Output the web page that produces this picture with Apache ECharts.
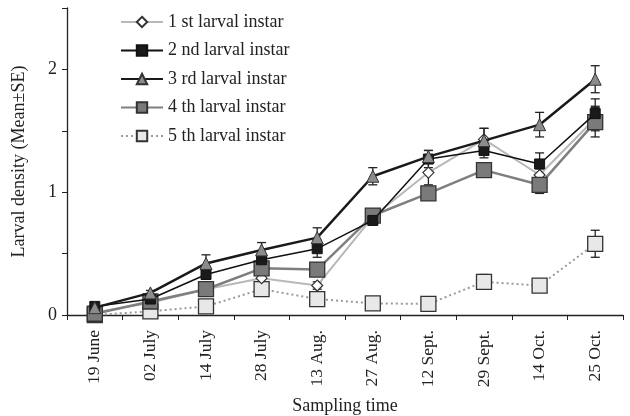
<!DOCTYPE html>
<html>
<head>
<meta charset="utf-8">
<script src="https://cdn.jsdelivr.net/npm/echarts@6/dist/echarts.min.js"></script>
<style>html,body{margin:0;padding:0;background:#fff}#c{width:630px;height:416px}</style>
</head>
<body>
<div id="c"></div>
<script>
var categories = ['19 June','02 July','14 July','28 July','13 Aug.','27 Aug.','12 Sept.','29 Sept.','14 Oct.','25 Oct.'];
var seriesNames = ['1 st larval instar','2 nd larval instar','3 rd larval instar','4 th larval instar','5 th larval instar'];
var instar1 = [0.02,0.10,0.21,0.30,0.24,0.80,1.16,1.43,1.14,1.60];
var instar2 = [0.07,0.13,0.33,0.45,0.54,0.77,1.27,1.34,1.23,1.64];
var instar3 = [0.06,0.18,0.42,0.53,0.63,1.13,1.29,1.42,1.55,1.92];
var instar4 = [0.01,0.11,0.21,0.38,0.37,0.81,0.99,1.18,1.06,1.57];
var instar5 = [0.00,0.03,0.07,0.21,0.13,0.095,0.09,0.27,0.24,0.58];
var se1 = [0.01,0.01,0.03,0.03,0.03,0.03,0.10,0.09,0.05,0.10];
var se2 = [0.01,0.02,0.04,0.05,0.07,0.03,0.07,0.06,0.09,0.12];
var se3 = [0.01,0.02,0.07,0.06,0.08,0.07,0.05,0.10,0.10,0.11];
var se4 = [0.01,0.02,0.03,0.04,0.04,0.04,0.05,0.04,0.07,0.12];
var se5 = [0.01,0.01,0.02,0.03,0.02,0.02,0.02,0.06,0.03,0.11];
var yTicks = ['0','1','2'];

var font = 'Liberation Serif';
function errSeries(vals, ses) {
  var d = vals.map(function (v, i) { return [i, v, ses[i]]; });
  return {
    type: 'custom', silent: true, z: 1,
    renderItem: function (params, api) {
      var x = api.value(0), v = api.value(1), s = api.value(2);
      var hi = api.coord([x, v + s]), lo = api.coord([x, v - s]);
      var w = 4.5;
      var st = { stroke: '#222', lineWidth: 1.3 };
      return { type: 'group', children: [
        { type: 'line', shape: { x1: hi[0], y1: hi[1], x2: lo[0], y2: lo[1] }, style: st },
        { type: 'line', shape: { x1: hi[0] - w, y1: hi[1], x2: hi[0] + w, y2: hi[1] }, style: st },
        { type: 'line', shape: { x1: lo[0] - w, y1: lo[1], x2: lo[0] + w, y2: lo[1] }, style: st }
      ]};
    },
    data: d
  };
}

var chart = echarts.init(document.getElementById('c'));
chart.setOption({
  backgroundColor: '#fff',
  animation: false,
  textStyle: { fontFamily: font },
  grid: { left: 67, right: 7, top: 8, bottom: 101, containLabel: false, outerBoundsMode: 'none' },
  legend: {
    orient: 'vertical', left: 115, top: 8, itemGap: 10.5, itemWidth: 42, itemHeight: 13,
    textStyle: { fontFamily: font, fontSize: 18, color: '#222' },
    data: seriesNames
  },
  xAxis: {
    type: 'category', data: categories, boundaryGap: true,
    axisLine: { lineStyle: { color: '#222', width: 1.3 } },
    axisTick: { show: true, length: 5, lineStyle: { color: '#222' } },
    axisLabel: { rotate: 90, fontFamily: font, fontSize: 17.5, color: '#222', margin: 15 },
    name: 'Sampling time', nameLocation: 'middle', nameGap: 82,
    nameTextStyle: { fontFamily: font, fontSize: 18, color: '#222' }
  },
  yAxis: {
    type: 'value', min: 0, max: 2.5, interval: 0.5,
    splitLine: { show: false },
    axisLine: { show: true, lineStyle: { color: '#222', width: 1.3 } },
    axisTick: { show: true, length: 5, lineStyle: { color: '#222' } },
    axisLabel: { fontFamily: font, fontSize: 18, color: '#222', margin: 10,
      formatter: function (v) { var s = String(v); return yTicks.indexOf(s) >= 0 ? s : ''; } },
    name: 'Larval density (Mean±SE)', nameLocation: 'middle', nameGap: 39,
    nameTextStyle: { fontFamily: font, fontSize: 18, color: '#222' }
  },
  series: [
    errSeries(instar1, se1), errSeries(instar2, se2), errSeries(instar3, se3),
    errSeries(instar4, se4), errSeries(instar5, se5),
    { name: seriesNames[4], type: 'line', data: instar5, z: 2,
      symbol: 'rect', symbolSize: 15,
      lineStyle: { color: '#9a9a9a', width: 2, type: [2, 3] },
      itemStyle: { color: '#e8e8e8', borderColor: '#333', borderWidth: 1.3 } },
    { name: seriesNames[0], type: 'line', data: instar1, z: 3,
      symbol: 'diamond', symbolSize: 11,
      lineStyle: { color: '#b8b8b8', width: 2 },
      itemStyle: { color: '#fff', borderColor: '#333', borderWidth: 1.2 } },
    { name: seriesNames[3], type: 'line', data: instar4, z: 4,
      symbol: 'rect', symbolSize: 15,
      lineStyle: { color: '#7f7f7f', width: 2.5 },
      itemStyle: { color: '#7a7a7a', borderColor: '#333', borderWidth: 1.3 } },
    { name: seriesNames[1], type: 'line', data: instar2, z: 5,
      symbol: 'rect', symbolSize: 10,
      lineStyle: { color: '#111', width: 1.5 },
      itemStyle: { color: '#1a1a1a', borderColor: '#111', borderWidth: 1 } },
    { name: seriesNames[2], type: 'line', data: instar3, z: 6,
      symbol: 'triangle', symbolSize: 12,
      lineStyle: { color: '#1a1a1a', width: 2.5 },
      itemStyle: { color: '#8c8c8c', borderColor: '#333', borderWidth: 1 } }
  ]
});
</script>
</body>
</html>
